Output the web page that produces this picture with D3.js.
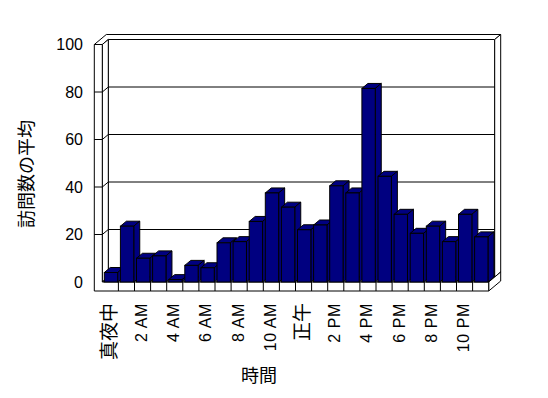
<!doctype html>
<html lang="ja">
<head>
<meta charset="utf-8">
<title>時間別の訪問数の平均</title>
<script src="https://d3js.org/d3.v7.min.js"></script>
<style>
  body { margin: 0; background: #fff; }
  text { font-family: "Liberation Sans", "Noto Sans CJK JP", sans-serif; fill: #000; }
</style>
</head>
<body>
<div id="chart"></div>
<script>
// data
const hours = ["真夜中", "1 AM", "2 AM", "3 AM", "4 AM", "5 AM", "6 AM", "7 AM", "8 AM", "9 AM", "10 AM", "11 AM",
               "正午", "1 PM", "2 PM", "3 PM", "4 PM", "5 PM", "6 PM", "7 PM", "8 PM", "9 PM", "10 PM", "11 PM"];
const visits = [4, 23.5, 10, 11, 1, 7, 6, 16.5, 17, 25.5, 37.5, 31.5,
                22, 24, 40.5, 37.5, 81.5, 44.5, 28.5, 20.5, 23.5, 17, 28.5, 19];
const xTickLabels = ["真夜中", "2 AM", "4 AM", "6 AM", "8 AM", "10 AM", "正午", "2 PM", "4 PM", "6 PM", "8 PM", "10 PM"];
const yTicks = [0, 20, 40, 60, 80, 100];

const W = 548, H = 398;
const dx = 6, dy = 5;          // depth offset of the 3d box
const wallT = 8, floorT = 9;   // wall / floor thickness

const svg = d3.select("#chart").append("svg")
  .attr("width", W).attr("height", H);

const x = d3.scaleBand().domain(hours).range([102.3, 488.7]);
const y = d3.scaleLinear().domain([0, 100]).range([282, 44.5]);

const x0 = x.range()[0], x1 = x.range()[1];
const yTop = y(100), yBot = y(0);

// project a front-plane point back by z depth units
const P = (px, py, z) => [px + dx * z, py - dy * z];
const poly = pts => pts.map(p => p.join(",")).join(" ");

const frame = svg.append("g").attr("fill", "#fff").attr("stroke", "#000").attr("stroke-width", 1);

// back wall face
frame.append("polygon").attr("points", poly([P(x0, yTop, 1), P(x1, yTop, 1), P(x1, yBot, 1), P(x0, yBot, 1)]));
// top of the walls
frame.append("polygon").attr("points", poly([
  [x0 - wallT, yTop], P(x0 - wallT, yTop, 2), P(x1, yTop, 2), P(x1, yTop, 1), P(x0, yTop, 1), [x0, yTop]]));
// right side of back wall
frame.append("polygon").attr("points", poly([P(x1, yTop, 1), P(x1, yTop, 2), P(x1, yBot, 2), P(x1, yBot, 1)]));
// left wall inner face
frame.append("polygon").attr("points", poly([[x0, yTop], P(x0, yTop, 1), P(x0, yBot, 1), [x0, yBot]]));
// floor top
frame.append("polygon").attr("points", poly([[x0, yBot], [x1, yBot], P(x1, yBot, 1), P(x0, yBot, 1)]));
// floor right side
frame.append("polygon").attr("points", poly([[x1, yBot], P(x1, yBot, 2), P(x1, yBot + floorT, 2), [x1, yBot + floorT]]));
// left wall + floor front face
frame.append("polygon").attr("points", poly([
  [x0 - wallT, yTop], [x0, yTop], [x0, yBot], [x1, yBot], [x1, yBot + floorT], [x0 - wallT, yBot + floorT]]));

// floor dividers
svg.append("g").selectAll("line").data(hours.slice(1)).join("line")
  .attr("x1", d => x(d)).attr("x2", d => x(d))
  .attr("y1", yBot).attr("y2", yBot + floorT)
  .attr("stroke", "#000");

// gridlines: tick on wall front, diagonal on wall side, line on back wall
const grid = svg.append("g").attr("stroke", "#000").attr("fill", "none");
yTicks.filter(v => v > 0 && v < 100).forEach(v => {
  const yy = y(v);
  grid.append("polyline").attr("points", poly([[x0 - wallT, yy], [x0, yy], P(x0, yy, 1), P(x1, yy, 1)]));
});

// bars
const pad = 2, bw = x.bandwidth() * 0.83;
const bars = svg.append("g").attr("fill", "#000080").attr("stroke", "#000").attr("stroke-width", 1);
hours.forEach((h, i) => {
  const bx = x(h) + pad, top = y(visits[i]);
  const g = bars.append("g");
  g.append("polygon").attr("points", poly([[bx, top], P(bx, top, 1), P(bx + bw, top, 1), [bx + bw, top]]));
  g.append("polygon").attr("points", poly([[bx + bw, top], P(bx + bw, top, 1), P(bx + bw, yBot, 1), [bx + bw, yBot]]));
  g.append("rect").attr("x", bx).attr("y", top).attr("width", bw).attr("height", yBot - top);
});

// y tick labels
svg.append("g").selectAll("text").data(yTicks).join("text")
  .attr("x", 83).attr("y", d => y(d))
  .attr("text-anchor", "end").attr("dominant-baseline", "central")
  .style("font-size", "16px")
  .text(d => d);

// x tick labels (rotated)
const isCJK = s => /[^\x00-\x7F]/.test(s);
svg.append("g").selectAll("text").data(xTickLabels).join("text")
  .attr("transform", d => `translate(${x(d) + x.bandwidth() / 2 - 1},303) rotate(-90)`)
  .attr("text-anchor", "end").attr("dominant-baseline", "central")
  .style("font-size", d => isCJK(d) ? "19px" : "16px")
  .style("letter-spacing", d => isCJK(d) ? "0px" : "0.6px")
  .text(d => d);

// axis titles
svg.append("text")
  .attr("x", 259).attr("y", 376)
  .attr("text-anchor", "middle").attr("dominant-baseline", "central")
  .style("font-size", "18px")
  .text("時間");

svg.append("text")
  .attr("transform", "translate(27,174) rotate(-90)")
  .attr("text-anchor", "middle").attr("dominant-baseline", "central")
  .style("font-size", "18px")
  .text("訪問数の平均");
</script>
</body>
</html>
